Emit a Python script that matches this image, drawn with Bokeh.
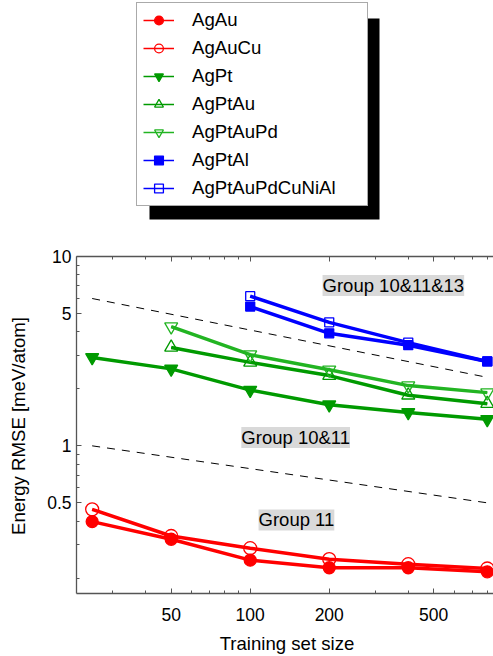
import math
from bokeh.plotting import figure
from bokeh.models import (FixedTicker, BasicTickFormatter, Legend, LogAxis,
                          LegendItem, Label, Range1d, BoxAnnotation)
from bokeh.embed import file_html
from bokeh.resources import INLINE

# ---------------- data ----------------
train_size = [25, 50, 100, 200, 400, 800]
agau = [0.398, 0.321, 0.249, 0.227, 0.227, 0.216]
agaucu = [0.462, 0.334, 0.288, 0.252, 0.237, 0.225]
agpt = [2.93, 2.55, 1.97, 1.65, 1.50, 1.38]
size_from50 = [50, 100, 200, 400, 800]
agptau = [3.31, 2.76, 2.35, 1.85, 1.67]
agptaupd = [4.26, 3.03, 2.52, 2.08, 1.91]
size_from100 = [100, 200, 400, 800]
agptal = [5.44, 3.93, 3.40, 2.79]
agptaupdcunial = [6.17, 4.49, 3.51, 2.79]
guide_x = [25, 800]
guide_upper = [6.0, 2.3]
guide_lower = [1.0, 0.5]

x_major = [50, 100, 200, 500]
x_minor = [30, 40, 60, 70, 80, 90, 300, 400, 600, 700, 800, 900]
y_major = [0.5, 1, 5, 10]
y_minor = [0.2, 0.3, 0.4, 0.6, 0.7, 0.8, 0.9, 2, 3, 4, 6, 7, 8, 9]

group_text = ["Group 10&11&13", "Group 10&11", "Group 11"]
group_x = [351, 149, 150]
group_y = [7.02, 1.106, 0.406]

# ---------------- geometry (plot box in page pixels) ----------------
W, H = 493, 656
BOX_L, BOX_T, BOX_B = 76, 256, 593
X_MIN, X_MAX = 21.79, 844.9          # x extent of the plot box
Y_MIN, Y_TOP = 0.166, 10.0           # y extent of the plot box
PXX = (W - BOX_L) / math.log10(X_MAX / X_MIN)
PXY = (BOX_B - BOX_T) / math.log10(Y_TOP / Y_MIN)


def xd(px):
    return 10 ** (math.log10(X_MIN) + (px - BOX_L) / PXX)


def yd(py):
    return Y_TOP * 10 ** ((BOX_T - py) / PXY)


FONT = "Liberation Sans"
AX = "#555555"

# the frame covers the whole canvas; axes are pinned to the plot box edges
p = figure(width=W, height=H, x_axis_type="log", y_axis_type="log",
           x_range=Range1d(xd(0), xd(W)), y_range=Range1d(yd(H), yd(0)),
           output_backend="svg", toolbar_location=None,
           min_border_left=0, min_border_right=0,
           min_border_top=0, min_border_bottom=0)
p.xgrid.grid_line_color = None
p.ygrid.grid_line_color = None
p.outline_line_color = None
p.background_fill_color = "white"
p.border_fill_color = "white"


def style_axis(ax, major, minor):
    ax.ticker = FixedTicker(ticks=major, minor_ticks=minor)
    ax.formatter = BasicTickFormatter()
    ax.axis_line_color = AX
    ax.axis_line_width = 1.3
    ax.major_tick_line_color = AX
    ax.minor_tick_line_color = AX
    ax.major_tick_in = 5
    ax.major_tick_out = 0
    ax.minor_tick_in = 3
    ax.minor_tick_out = 0
    ax.major_label_text_font = FONT
    ax.major_label_text_font_size = "17.5px"
    ax.major_label_text_color = "black"


xa = p.xaxis[0]
style_axis(xa, x_major, x_minor)
xa.fixed_location = Y_MIN
xa.bounds = (X_MIN, X_MAX)
xa.major_label_standoff = 14

ya = p.yaxis[0]
style_axis(ya, y_major, y_minor)
ya.fixed_location = X_MIN
ya.bounds = (Y_MIN, Y_TOP)
ya.major_label_standoff = 5

top = LogAxis()
style_axis(top, x_major, x_minor)
top.fixed_location = Y_TOP
top.bounds = (X_MIN, X_MAX)
top.major_label_text_font_size = "0px"
top.major_label_text_color = None
p.add_layout(top, "above")

# axis titles
p.add_layout(Label(x=xd(286.5), y=yd(643), text="Training set size",
                   text_align="center", text_baseline="middle",
                   text_font=FONT, text_font_size="18.6px", text_color="black"))
p.add_layout(Label(x=xd(17.5), y=yd(425.5), text="Energy RMSE [meV/atom]",
                   angle=math.pi / 2, text_align="center",
                   text_baseline="middle", text_font=FONT,
                   text_font_size="18.6px", text_color="black"))

# guide lines
p.line(guide_x, guide_upper, line_color="black", line_width=1, line_dash="8 7")
p.line(guide_x, guide_lower, line_color="black", line_width=1, line_dash="8 7")

RED = "#ff0000"
DG = "#009a00"
LG = "#22b422"
BLUE = "#0000ff"

series = [
    ("AgAu", train_size, agau, RED, "circle", True, 12),
    ("AgAuCu", train_size, agaucu, RED, "circle", False, 13),
    ("AgPt", train_size, agpt, DG, "inverted_triangle", True, 13),
    ("AgPtAu", size_from50, agptau, DG, "triangle", False, 13),
    ("AgPtAuPd", size_from50, agptaupd, LG, "inverted_triangle", False, 13),
    ("AgPtAl", size_from100, agptal, BLUE, "square", True, 9),
    ("AgPtAuPdCuNiAl", size_from100, agptaupdcunial, BLUE, "square", False, 9),
]

items = []
for name, xs, ys, col, mk, filled, sz in series:
    thin = p.line(xs, ys, line_color=col, line_width=1.5)
    p.line(xs, ys, line_color=col, line_width=3.5)
    sc = p.scatter(xs, ys, marker=mk, size=sz, line_color=col, line_width=1.3,
                   fill_color=col if filled else None)
    items.append(LegendItem(label=name, renderers=[thin, sc]))

# legend drop shadow
p.add_layout(BoxAnnotation(left=xd(149), right=xd(379), top=yd(18),
                           bottom=yd(219), fill_color="black", fill_alpha=1.0,
                           line_color=None))

legend = Legend(items=items, location=(136, H - 206), orientation="vertical",
                padding=6, spacing=6, margin=0,
                label_height=22, glyph_height=22, glyph_width=31,
                label_standoff=18, label_width=169,
                label_text_font=FONT, label_text_font_size="18.6px",
                label_text_color="black",
                background_fill_color="white", background_fill_alpha=1.0,
                border_line_color="#555555", border_line_width=1)
p.add_layout(legend, "center")

for t, gx, gy in zip(group_text, group_x, group_y):
    p.add_layout(Label(x=gx, y=gy, text=t, text_align="center",
                       text_baseline="middle", text_font=FONT,
                       text_font_size="18.5px", text_color="black",
                       background_fill_color="#d9d9d9", padding=0))

open("out.html", "w").write(file_html(p, INLINE))
